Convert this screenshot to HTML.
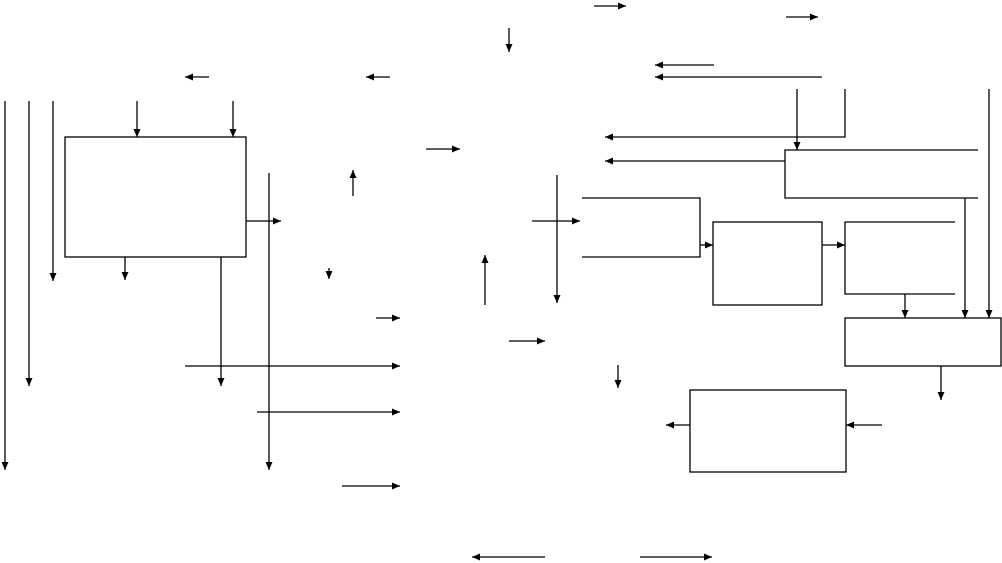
<!DOCTYPE html>
<html><head><meta charset="utf-8"><style>html,body{margin:0;padding:0;background:#fff;width:1002px;height:563px;overflow:hidden}</style></head>
<body>
<svg width="1002" height="563" viewBox="0 0 1002 563" xmlns="http://www.w3.org/2000/svg">
<defs><marker id="a" markerWidth="8" markerHeight="7" refX="8" refY="3.5" orient="auto" markerUnits="userSpaceOnUse"><path d="M0,0 L8,3.5 L0,7 z" fill="#000"/></marker></defs>
<g stroke="#000" stroke-width="1.3" fill="none">
<!-- top -->
<line x1="594" y1="6" x2="626" y2="6" marker-end="url(#a)"/>
<line x1="786" y1="17" x2="818" y2="17" marker-end="url(#a)"/>
<line x1="509" y1="28" x2="509" y2="52" marker-end="url(#a)"/>
<line x1="714" y1="65" x2="655" y2="65" marker-end="url(#a)"/>
<line x1="822" y1="77" x2="655" y2="77" marker-end="url(#a)"/>
<line x1="209" y1="77" x2="185" y2="77" marker-end="url(#a)"/>
<line x1="390" y1="77" x2="366" y2="77" marker-end="url(#a)"/>
<!-- left verticals -->
<line x1="5" y1="101" x2="5" y2="470" marker-end="url(#a)"/>
<line x1="29" y1="101" x2="29" y2="386" marker-end="url(#a)"/>
<line x1="53" y1="101" x2="53" y2="281" marker-end="url(#a)"/>
<line x1="137" y1="101" x2="137" y2="137" marker-end="url(#a)"/>
<line x1="233" y1="101" x2="233" y2="137" marker-end="url(#a)"/>
<rect x="65" y="137" width="181" height="120"/>
<line x1="125" y1="257" x2="125" y2="280" marker-end="url(#a)"/>
<line x1="221" y1="257" x2="221" y2="386" marker-end="url(#a)"/>
<line x1="246" y1="221" x2="281" y2="221" marker-end="url(#a)"/>
<line x1="269" y1="173" x2="269" y2="470" marker-end="url(#a)"/>
<line x1="353" y1="196" x2="353" y2="170" marker-end="url(#a)"/>
<line x1="329" y1="268" x2="329" y2="279" marker-end="url(#a)"/>
<line x1="426" y1="149" x2="460" y2="149" marker-end="url(#a)"/>
<line x1="485" y1="305" x2="485" y2="255" marker-end="url(#a)"/>
<!-- right arrows to column x=400 -->
<line x1="376" y1="318" x2="400" y2="318" marker-end="url(#a)"/>
<line x1="185" y1="366" x2="400" y2="366" marker-end="url(#a)"/>
<line x1="257" y1="412" x2="400" y2="412" marker-end="url(#a)"/>
<line x1="342" y1="486" x2="400" y2="486" marker-end="url(#a)"/>
<line x1="509" y1="341" x2="545" y2="341" marker-end="url(#a)"/>
<!-- right side top -->
<line x1="797" y1="89" x2="797" y2="150" marker-end="url(#a)"/>
<polyline points="845,89 845,137 605,137" marker-end="url(#a)"/>
<line x1="785" y1="161" x2="605" y2="161" marker-end="url(#a)"/>
<polyline points="978,150 785,150 785,198 978,198"/>
<line x1="989" y1="89" x2="989" y2="318" marker-end="url(#a)"/>
<line x1="965" y1="198" x2="965" y2="318" marker-end="url(#a)"/>
<!-- middle -->
<line x1="557" y1="175" x2="557" y2="303" marker-end="url(#a)"/>
<line x1="532" y1="221" x2="580" y2="221" marker-end="url(#a)"/>
<polyline points="582,198 700,198 700,257 582,257"/>
<line x1="700" y1="245" x2="713" y2="245" marker-end="url(#a)"/>
<rect x="713" y="222" width="109" height="83"/>
<line x1="822" y1="245" x2="845" y2="245" marker-end="url(#a)"/>
<polyline points="955,222 845,222 845,294 955,294"/>
<line x1="905" y1="294" x2="905" y2="318" marker-end="url(#a)"/>
<rect x="845" y="318" width="156" height="48"/>
<line x1="941" y1="366" x2="941" y2="400" marker-end="url(#a)"/>
<rect x="690" y="390" width="156" height="82"/>
<line x1="882" y1="425" x2="846" y2="425" marker-end="url(#a)"/>
<line x1="690" y1="425" x2="666" y2="425" marker-end="url(#a)"/>
<line x1="618" y1="365" x2="618" y2="388" marker-end="url(#a)"/>
<!-- bottom -->
<line x1="545" y1="557" x2="472" y2="557" marker-end="url(#a)"/>
<line x1="640" y1="557" x2="712" y2="557" marker-end="url(#a)"/>
</g>
</svg>
</body></html>
